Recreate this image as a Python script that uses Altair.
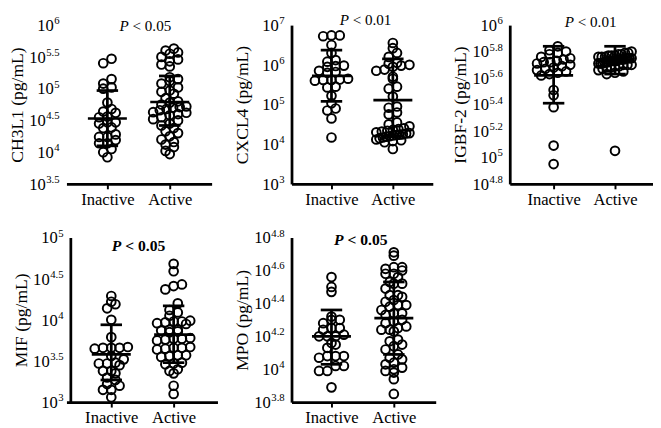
import altair as alt
import pandas as pd
import numpy as np

FONT = "Liberation Serif"

groups = ["Inactive", "Active"]

# values are log10(pg/mL)
ch3l1_inactive = [5.47, 5.40, 5.15, 5.08, 5.02, 5.00, 4.78, 4.68, 4.64, 4.62, 4.56, 4.55, 4.47,
                  4.47, 4.45, 4.39, 4.38, 4.28, 4.24, 4.24, 4.19, 4.14, 4.14, 4.05, 4.00, 3.92]
ch3l1_active = [5.63, 5.60, 5.57, 5.55, 5.50, 5.46, 5.43, 5.38, 5.35, 5.18, 5.15, 5.12, 5.08, 5.02,
                4.97, 4.95, 4.92, 4.85, 4.80, 4.78, 4.75, 4.72, 4.71, 4.70, 4.68, 4.66, 4.63, 4.62,
                4.60, 4.58, 4.55, 4.52, 4.50, 4.45, 4.42, 4.38, 4.33, 4.30, 4.25, 4.20, 4.16, 4.12,
                4.08, 4.02, 3.97]
ch3l1_err = [(4.53, 4.10, 4.97), (4.79, 4.42, 5.20)]  # centre, low, high

cxcl4_inactive = [6.74, 6.74, 6.72, 6.50, 6.30, 6.12, 6.08, 5.98, 5.97, 5.95, 5.85, 5.82, 5.80,
                  5.65, 5.63, 5.62, 5.62, 5.60, 5.45, 5.43, 5.22, 5.03, 4.90, 4.85, 4.65, 4.17]
cxcl4_active = [6.55, 6.42, 6.30, 6.20, 6.05, 6.03, 6.00, 5.98, 5.95, 5.88, 5.85, 5.70, 5.65, 5.45,
                5.40, 5.20, 4.95, 4.92, 4.80, 4.75, 4.55, 4.50, 4.45, 4.40, 4.38, 4.36, 4.34, 4.32,
                4.30, 4.28, 4.27, 4.25, 4.24, 4.23, 4.22, 4.20, 4.19, 4.17, 4.15, 4.12, 4.10, 4.08,
                4.05, 3.88]
cxcl4_err = [(5.72, 5.08, 6.37), (5.11, 4.20, 6.15)]

igbf2_inactive = [5.84, 5.81, 5.80, 5.79, 5.78, 5.76, 5.75, 5.74, 5.73, 5.72, 5.72, 5.71, 5.70,
                  5.69, 5.68, 5.67, 5.66, 5.65, 5.64, 5.63, 5.62, 5.51, 5.47, 5.38, 5.09, 4.95]
igbf2_active = [5.80, 5.79, 5.79, 5.78, 5.78, 5.77, 5.77, 5.77, 5.76, 5.76, 5.76, 5.75, 5.75, 5.75,
                5.75, 5.74, 5.74, 5.74, 5.74, 5.73, 5.73, 5.73, 5.73, 5.72, 5.72, 5.72, 5.71, 5.71,
                5.71, 5.70, 5.70, 5.70, 5.69, 5.69, 5.68, 5.68, 5.67, 5.66, 5.65, 5.64, 5.63, 5.05]
igbf2_err = [(5.62, 5.41, 5.84), (5.74, 5.63, 5.84)]

mif_inactive = [4.29, 4.22, 4.19, 4.14, 4.00, 3.79, 3.67, 3.66, 3.66, 3.66, 3.65, 3.56, 3.52, 3.48,
                3.47, 3.47, 3.45, 3.38, 3.38, 3.35, 3.30, 3.27, 3.22, 3.20, 3.15, 3.15, 3.06]
mif_active = [4.68, 4.59, 4.43, 4.41, 4.37, 4.20, 4.12, 4.09, 4.05, 3.99, 3.98, 3.98, 3.97, 3.96,
              3.95, 3.88, 3.88, 3.87, 3.86, 3.85, 3.78, 3.77, 3.77, 3.76, 3.75, 3.67, 3.66, 3.66,
              3.65, 3.64, 3.57, 3.57, 3.56, 3.55, 3.48, 3.47, 3.46, 3.40, 3.38, 3.35, 3.20, 3.10]
mif_err = [(3.58, 3.27, 3.94), (3.82, 3.48, 4.17)]

mpo_inactive = [4.56, 4.50, 4.47, 4.32, 4.30, 4.30, 4.28, 4.25, 4.25, 4.24, 4.21, 4.20, 4.20,
                4.20, 4.16, 4.15, 4.13, 4.08, 4.08, 4.08, 4.07, 4.02, 4.02, 3.99, 3.99, 3.89]
mpo_active = [4.71, 4.69, 4.62, 4.62, 4.61, 4.60, 4.58, 4.58, 4.56, 4.53, 4.52, 4.52, 4.49, 4.45,
              4.45, 4.44, 4.42, 4.41, 4.39, 4.39, 4.38, 4.36, 4.34, 4.34, 4.33, 4.30, 4.29, 4.28,
              4.26, 4.25, 4.24, 4.24, 4.23, 4.18, 4.17, 4.15, 4.14, 4.12, 4.09, 4.07, 4.06, 4.04,
              4.03, 4.01, 4.00, 3.99, 3.98, 3.94, 3.85]
mpo_err = [(4.20, 4.03, 4.36), (4.31, 4.09, 4.53)]

ch3l1_ticks = [3.5, 4, 4.5, 5, 5.5, 6]
cxcl4_ticks = [3, 4, 5, 6, 7]
igbf2_ticks = [4.8, 5, 5.2, 5.4, 5.6, 5.8, 6]
mif_ticks = [3, 3.5, 4, 4.5, 5]
mpo_ticks = [3.8, 4, 4.2, 4.4, 4.6, 4.8]


def swarm(vals, ymin, ppu, bin_px=7.0, step=8.5, half=17.0):
    vals = np.asarray(vals, float)
    py = (vals - ymin) * ppu
    b = np.round(py / bin_px).astype(int)
    offs = np.zeros(len(vals))
    for k in np.unique(b):
        idx = np.where(b == k)[0]
        idx = idx[np.argsort(vals[idx])]
        n = len(idx)
        if n < 2:
            continue
        sp = min(step, 2 * half / (n - 1))
        for j, i in enumerate(idx):
            offs[i] = (j - (n - 1) / 2) * sp
    return offs


def fmt_exp(t):
    return str(int(t)) if float(t).is_integer() else f"{t:.1f}"


def panel(ytitle, inactive, active, err, ticks, W, H, g0, ux, axis_off,
          ydomain, ptext, cx, cy, bold):
    ymin, ymax = ticks[0], ticks[-1]
    ppu = H / (ymax - ymin)
    rows = []
    for gi, vals in enumerate([inactive, active]):
        offs = swarm(vals, ymin, ppu)
        for e, o in zip(vals, offs):
            rows.append({"x": gi + o / ux, "v": 10 ** e})
    pts = pd.DataFrame(rows)

    rr = []
    for gi in range(2):
        c, lo, hi = err[gi]
        rr.append(dict(x=gi, x2=gi, v=10 ** lo, v2=10 ** hi))
        rr.append(dict(x=gi - 20 / ux, x2=gi + 20 / ux, v=10 ** c, v2=10 ** c))
        rr.append(dict(x=gi - 11 / ux, x2=gi + 11 / ux, v=10 ** lo, v2=10 ** lo))
        rr.append(dict(x=gi - 11 / ux, x2=gi + 11 / ux, v=10 ** hi, v2=10 ** hi))
    rules = pd.DataFrame(rr)

    exps = [fmt_exp(t) for t in ticks]
    expw = [sum(2.75 if ch == "." else 5.5 for ch in s) for s in exps]
    tdf = pd.DataFrame({
        "v": [10 ** t for t in ticks],
        "base": ["10"] * len(ticks),
        "exp": exps,
        "lxe": [axis_off - 7] * len(ticks),
        "lxb": [axis_off - 7.5 - w for w in expw],
    })

    xs = alt.Scale(domain=[-g0 / ux, (W - g0) / ux], nice=False, zero=False)
    ys = alt.Scale(type="log", domain=[10 ** ymin, 10 ** ymax], nice=False)
    xaxis = alt.Axis(values=[0, 1], labelExpr="datum.value < 0.5 ? 'Inactive' : 'Active'",
                     title=None, grid=False, domainColor="black", domainWidth=2.8,
                     tickColor="black", tickWidth=2, tickSize=5, labelFont=FONT,
                     labelFontSize=17, labelColor="black", labelPadding=3,
                     labelOverlap=False, labelFlush=False)
    yaxis = alt.Axis(title=ytitle, labels=False, ticks=False, grid=False, domain=ydomain,
                     domainColor="black", domainWidth=2.8, offset=-axis_off,
                     titleFont=FONT, titleFontSize=18, titleFontWeight="normal",
                     titleColor="black", titlePadding=41)
    X = alt.X("x:Q", scale=xs, axis=xaxis)
    Y = alt.Y("v:Q", scale=ys, axis=yaxis)

    points = alt.Chart(pts).mark_point(shape="circle", filled=False, size=80, strokeWidth=2,
                                       color="black", opacity=1).encode(x=X, y=Y)
    bars = alt.Chart(rules).mark_rule(color="black", strokeWidth=2.8).encode(
        x=X, x2="x2:Q", y=Y, y2="v2:Q")
    lab_b = alt.Chart(tdf).mark_text(align="right", baseline="alphabetic", dy=6, font=FONT,
                                     fontSize=17, color="black").encode(
        x=alt.X("lxb:Q", scale=None, axis=None), y=Y, text="base:N")
    lab_e = alt.Chart(tdf).mark_text(align="right", baseline="alphabetic", dy=-1, font=FONT,
                                     fontSize=11, color="black").encode(
        x=alt.X("lxe:Q", scale=None, axis=None), y=Y, text="exp:N")

    fs = 16 if bold else 15.5
    fw = "bold" if bold else "normal"
    wP = 0.611 * fs
    tot = 3.425 * fs
    sp = 0.25 * fs
    pa = alt.Chart(pd.DataFrame({"t": ["P"]})).mark_text(
        align="right", baseline="middle", font=FONT, fontSize=fs, fontStyle="italic",
        fontWeight=fw, color="black").encode(
        x=alt.value(cx - tot / 2 + wP), y=alt.value(cy), text="t:N")
    pb = alt.Chart(pd.DataFrame({"t": [ptext]})).mark_text(
        align="left", baseline="middle", font=FONT, fontSize=fs, fontWeight=fw,
        color="black").encode(
        x=alt.value(cx - tot / 2 + wP + sp), y=alt.value(cy), text="t:N")

    return alt.layer(points, bars, lab_b, lab_e, pa, pb).properties(width=W, height=H)


p1 = panel("CH3L1 (pg/mL)", ch3l1_inactive, ch3l1_active, ch3l1_err, ch3l1_ticks,
           149, 163, 42, 64, 0, False, "< 0.05", 81, 1, False)
p2 = panel("CXCL4 (pg/mL)", cxcl4_inactive, cxcl4_active, cxcl4_err, cxcl4_ticks,
           145, 163, 41, 63, 0, True, "< 0.01", 76, -5, False)
p3 = panel("IGBF-2 (pg/mL)", igbf2_inactive, igbf2_active, igbf2_err, igbf2_ticks,
           147, 163, 45, 63, 0, True, "< 0.01", 83, -3, False)
p4 = panel("MIF (pg/mL)", mif_inactive, mif_active, mif_err, mif_ticks,
           155, 169, 46, 64, 4, True, "< 0.05", 74, 9, True)
p5 = panel("MPO (pg/mL)", mpo_inactive, mpo_active, mpo_err, mpo_ticks,
           148, 169, 41, 64, 0, True, "< 0.05", 71, 3, True)

chart = alt.concat(p1, p2, p3, p4, p5, columns=3, spacing={"row": 55, "column": 76},
                   bounds="flush", align="none", padding=0).configure_view(stroke=None)

chart.save("out.html", embed_options={"renderer": "svg", "actions": False})
